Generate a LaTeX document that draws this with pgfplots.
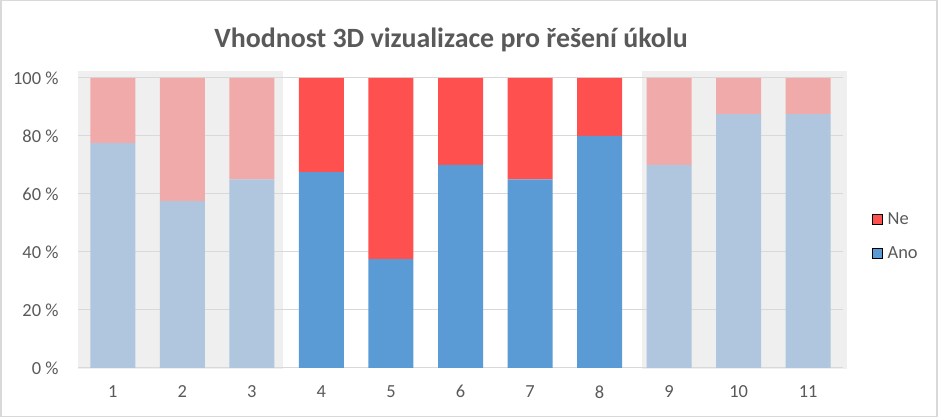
\documentclass[border=0pt]{standalone}
\usepackage{pgfplots}
\pgfplotsset{compat=1.18}
\usepackage{fontspec}
\setmainfont{Carlito}
\definecolor{blueF}{HTML}{5B9BD5}
\definecolor{redF}{HTML}{FF5050}
\definecolor{blueL}{HTML}{AFC6DE}
\definecolor{redL}{HTML}{F0AAAA}
\definecolor{bgG}{HTML}{EFEFEF}
\definecolor{gridG}{HTML}{D9D9D9}
\definecolor{txt}{HTML}{595959}
\begin{document}
\begin{tikzpicture}
\useasboundingbox (0bp,0bp) rectangle (943bp,417bp);
\draw[gridG, line width=1.5bp] (0.75bp,0.75bp) rectangle (937bp,416.25bp);
\node[txt, font=\fontsize{28}{32}\selectfont\bfseries, anchor=base] at (451bp,369bp) {Vhodnost 3D vizualizace pro řešení úkolu};
% shaded background panels behind the faded groups
\fill[bgG] (78bp,48bp) rectangle (283bp,346bp);
\fill[bgG] (642bp,48bp) rectangle (847bp,346bp);
\begin{axis}[
  at={(78bp,49bp)}, anchor=south west,
  scale only axis, width=765bp, height=290bp,
  xmin=0.5, xmax=11.5, ymin=0, ymax=100,
  clip=false,
  ybar stacked, bar width=45bp,
  xtick={1,...,11},
  ytick={0,20,40,60,80,100},
  yticklabels={0 \%,20 \%,40 \%,60 \%,80 \%,100 \%},
  /pgf/number format/assume math mode=true,
  major tick length=0pt,
  ymajorgrids, grid style={gridG, line width=1bp},
  axis x line*=bottom, axis y line*=left,
  y axis line style={draw=none},
  x axis line style={gridG, line width=1bp},
  tick label style={txt, font=\fontsize{18.5}{22}\selectfont},
  yticklabel style={xshift=-16bp},
  xticklabel style={yshift=-14bp},
  legend style={draw=none, fill=none, at={(1.034,0.455)}, anchor=west,
    font=\fontsize{18.5}{22}\selectfont, text=txt, row sep=17bp},
  legend cell align=left,
  legend image code/.code={\fill[#1] (0bp,-5bp) rectangle (10bp,5bp); \path (13bp,0bp);},
]
% Ano faded
\addplot[fill=blueL, draw=none, forget plot] coordinates {(1,77.5) (2,57.5) (3,65) (4,0) (5,0) (6,0) (7,0) (8,0) (9,70) (10,87.5) (11,87.5)};
% Ano full
\addplot[fill=blueF, draw=none, forget plot] coordinates {(1,0) (2,0) (3,0) (4,67.5) (5,37.5) (6,70) (7,65) (8,80) (9,0) (10,0) (11,0)};
% Ne faded
\addplot[fill=redL, draw=none, forget plot] coordinates {(1,22.5) (2,42.5) (3,35) (4,0) (5,0) (6,0) (7,0) (8,0) (9,30) (10,12.5) (11,12.5)};
% Ne full
\addplot[fill=redF, draw=none, forget plot] coordinates {(1,0) (2,0) (3,0) (4,32.5) (5,62.5) (6,30) (7,35) (8,20) (9,0) (10,0) (11,0)};
\addlegendimage{fill=redF}
\addlegendentry{Ne}
\addlegendimage{fill=blueF}
\addlegendentry{Ano}
\end{axis}
\end{tikzpicture}
\end{document}
